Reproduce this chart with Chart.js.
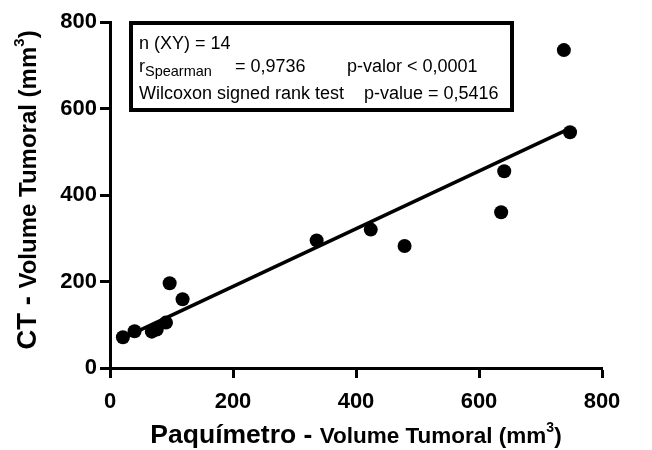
<!DOCTYPE html>
<html>
<head>
<meta charset="utf-8">
<script src="https://cdn.jsdelivr.net/npm/chart.js@4"></script>
<style>
  html, body { margin: 0; padding: 0; background: #fff; }
  #wrap { width: 652px; height: 450px; }
</style>
</head>
<body>
<div id="wrap"><canvas id="c" width="652" height="450"></canvas></div>
<script>
// ── Data ──
var paquimetro = [21, 40, 68, 76, 91, 97, 118, 336, 424, 479, 636, 641, 738, 748];
var ctVolume   = [71, 85, 84, 89, 105, 196, 159, 295, 320, 282, 360, 455, 735, 545];
var fitX = [21, 748];
var fitY = [69, 554];
var tickValues = [0, 200, 400, 600, 800];
var statsText = {
    n: 'n (XY) = 14',
    r: '= 0,9736',
    pr: 'p-valor < 0,0001',
    wil: 'Wilcoxon signed rank test',
    pw: 'p-value = 0,5416'
};

var FONT = "'Liberation Sans', Arial, Helvetica, sans-serif";

// draws a run of [text, size, weight, rise] pieces starting at x
function drawRuns(ctx, runs, x, y) {
    runs.forEach(function (r) {
        ctx.font = r[2] + ' ' + r[1] + 'px ' + FONT;
        ctx.fillText(r[0], x, y - (r[3] || 0));
        x += ctx.measureText(r[0]).width;
    });
}
function runsWidth(ctx, runs) {
    var w = 0;
    runs.forEach(function (r) {
        ctx.font = r[2] + ' ' + r[1] + 'px ' + FONT;
        w += ctx.measureText(r[0]).width;
    });
    return w;
}

var titlesPlugin = {
    id: 'titles',
    afterDraw: function (chart) {
        var ctx = chart.ctx, a = chart.chartArea;
        ctx.save();
        ctx.fillStyle = '#000';
        ctx.textBaseline = 'alphabetic';
        ctx.textAlign = 'left';

        // x title
        var xr = [['Paquímetro - ', 26.5, 'bold'], ['Volume Tumoral (mm', 22.5, 'bold'],
                  ['3', 14, 'bold', 11], [')', 22.5, 'bold']];
        var cx = (a.left + a.right) / 2;
        drawRuns(ctx, xr, cx - runsWidth(ctx, xr) / 2, 443);

        // y title
        var yr = [['CT - ', 27.5, 'bold'], ['Volume Tumoral (mm', 24, 'bold'],
                  ['3', 15, 'bold', 12], [')', 24, 'bold']];
        ctx.translate(36, 190);
        ctx.rotate(-Math.PI / 2);
        drawRuns(ctx, yr, -runsWidth(ctx, yr) / 2, 0);
        ctx.restore();

        // stats box
        ctx.save();
        ctx.strokeStyle = '#000';
        ctx.lineWidth = 4;
        var bx = a.left + 21, by = a.top + 1;
        ctx.strokeRect(bx, by, 381, 87);
        ctx.fillStyle = '#000';
        ctx.textBaseline = 'alphabetic';
        ctx.font = '18px ' + FONT;
        ctx.fillText(statsText.n, bx + 8, by + 26);
        ctx.fillText('r', bx + 8, by + 49);
        ctx.font = '14.5px ' + FONT;
        ctx.fillText('Spearman', bx + 14, by + 53);
        ctx.font = '18px ' + FONT;
        ctx.fillText(statsText.r, bx + 104, by + 49);
        ctx.fillText(statsText.pr, bx + 216, by + 49);
        ctx.fillText(statsText.wil, bx + 8, by + 76);
        ctx.fillText(statsText.pw, bx + 233, by + 76);
        ctx.restore();
    }
};

var points = paquimetro.map(function (v, i) { return { x: v, y: ctVolume[i] }; });
var fitLine = fitX.map(function (v, i) { return { x: v, y: fitY[i] }; });

var axisCommon = {
    type: 'linear',
    min: 0,
    max: 800,
    border: { display: true, color: '#000', width: 3 },
    grid: {
        display: true, drawOnChartArea: false, drawTicks: true,
        tickLength: 10, tickWidth: 3, tickColor: '#000', color: '#000'
    },
    afterBuildTicks: function (s) {
        s.ticks = tickValues.map(function (v) { return { value: v }; });
    }
};

new Chart(document.getElementById('c'), {
    data: {
        datasets: [
            {
                type: 'line',
                data: fitLine,
                borderColor: '#000',
                borderWidth: 3.5,
                pointRadius: 0,
                fill: false,
                order: 2
            },
            {
                type: 'scatter',
                data: points,
                backgroundColor: '#000',
                borderWidth: 0,
                pointRadius: 7,
                pointHoverRadius: 7,
                order: 1
            }
        ]
    },
    options: {
        responsive: false,
        animation: false,
        clip: false,
        layout: { padding: { top: 22, right: 50, left: 0, bottom: 0 } },
        plugins: { legend: { display: false }, tooltip: { enabled: false } },
        scales: {
            x: Object.assign({}, axisCommon, {
                position: 'bottom',
                ticks: { color: '#000', padding: 11, maxRotation: 0,
                         font: { family: FONT, size: 22, weight: 'bold' } },
                afterFit: function (s) { s.height = 82; }
            }),
            y: Object.assign({}, axisCommon, {
                position: 'left',
                ticks: { color: '#000', padding: 3,
                         font: { family: FONT, size: 22, weight: 'bold' } },
                afterFit: function (s) { s.width = 110; }
            })
        }
    },
    plugins: [titlesPlugin]
});
</script>
</body>
</html>
